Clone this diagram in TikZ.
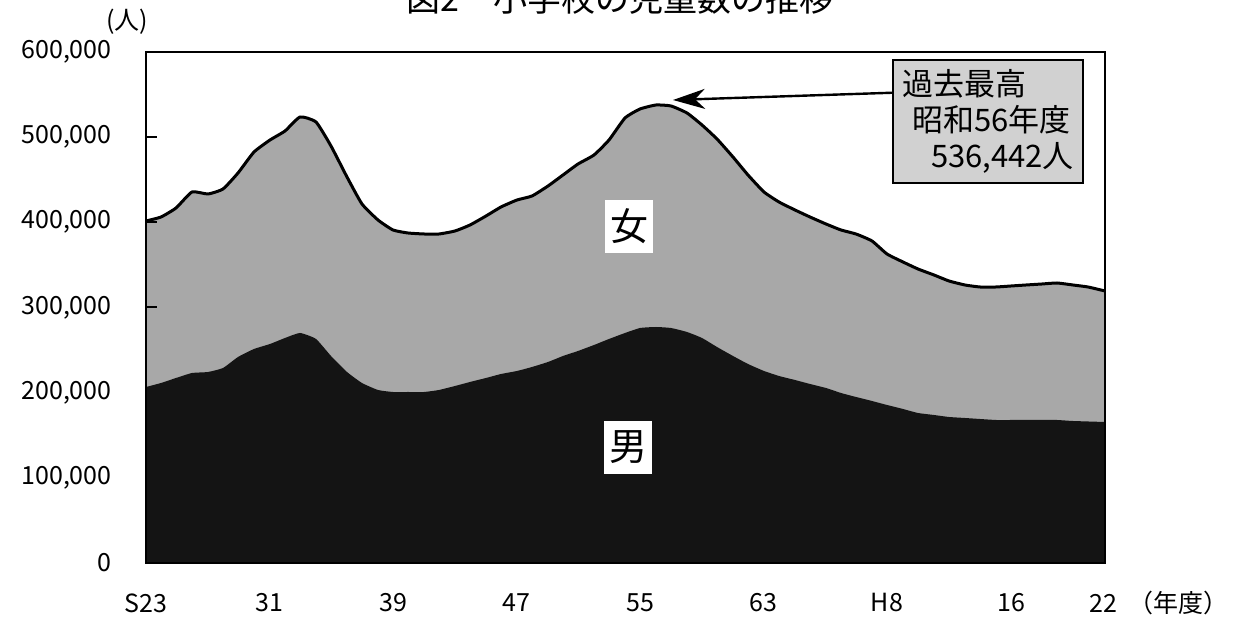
\documentclass[tikz,border=0pt]{standalone}
\usepackage{fontspec}
\setmainfont{Noto Sans CJK JP}
\usetikzlibrary{arrows.meta,calc}

\begin{document}
\begin{tikzpicture}[x=0.5pt,y=-0.5pt,
    ylab/.style={anchor=east,inner sep=0pt,font=\fontsize{12.5}{12.5}\selectfont},
    xlab/.style={inner sep=0pt,font=\fontsize{12.5}{12.5}\selectfont},
    sexlab/.style={fill=white,inner sep=0pt,minimum width=24pt,minimum height=26.5pt,font=\fontsize{19}{19}\selectfont}]
    \useasboundingbox (0,0) rectangle (1233,619);

    % total (girls on top)
    \fill [black!34] (146,563) -- plot[smooth,tension=0.3] coordinates {(146,221) (161,217) (176,208) (192,192) (208,194) (223,189) (238,173) (254,152) (270,140) (285,131) (300,117) (316,122) (331,146) (347,177) (362,204) (378,220) (393,230) (408,233) (424,234) (439,234) (455,231) (470,225) (486,216) (501,207) (517,200) (532,196) (548,186) (563,175) (578,164) (594,155) (609,140) (625,118) (640,109) (656,105) (671,106) (687,113) (702,125) (717,139) (733,157) (748,175) (764,192) (779,202) (795,210) (810,217) (826,224) (841,230) (856,234) (872,241) (887,254) (903,262) (918,269) (934,275) (949,281) (965,285) (980,287) (996,287) (1011,286) (1026,285) (1042,284) (1057,283) (1073,285) (1088,287) (1105,291)} -- (1105,563) -- cycle;
    % boys
    \fill [black!92] (146,563) -- plot[smooth,tension=0.3] coordinates {(146,387) (161,383) (176,378) (192,373) (208,372) (223,368) (238,357) (254,349) (270,344) (285,338) (300,333) (316,339) (331,356) (347,372) (362,383) (378,390) (393,392) (408,392) (424,392) (439,390) (455,386) (470,382) (486,378) (501,374) (517,371) (532,367) (548,362) (563,356) (578,351) (594,345) (609,339) (625,333) (640,328) (656,327) (671,328) (687,332) (702,338) (717,347) (733,356) (748,364) (764,371) (779,376) (795,380) (810,384) (826,388) (841,393) (856,397) (872,401) (887,405) (903,409) (918,413) (934,415) (949,417) (965,418) (980,419) (996,420) (1011,420) (1026,420) (1042,420) (1057,420) (1073,421) (1105,422)} -- (1105,563) -- cycle;
    \draw [line width=1.5pt,line join=round] plot[smooth,tension=0.3] coordinates {(146,221) (161,217) (176,208) (192,192) (208,194) (223,189) (238,173) (254,152) (270,140) (285,131) (300,117) (316,122) (331,146) (347,177) (362,204) (378,220) (393,230) (408,233) (424,234) (439,234) (455,231) (470,225) (486,216) (501,207) (517,200) (532,196) (548,186) (563,175) (578,164) (594,155) (609,140) (625,118) (640,109) (656,105) (671,106) (687,113) (702,125) (717,139) (733,157) (748,175) (764,192) (779,202) (795,210) (810,217) (826,224) (841,230) (856,234) (872,241) (887,254) (903,262) (918,269) (934,275) (949,281) (965,285) (980,287) (996,287) (1011,286) (1026,285) (1042,284) (1057,283) (1073,285) (1088,287) (1105,291)};% outline

    \draw [line width=1pt] (146,52) rectangle (1105,563);% frame
    \draw [line width=1pt] (146,137.2) -- (157,137.2);
    \draw [line width=1pt] (146,222.3) -- (157,222.3);
    \draw [line width=1pt] (146,307.5) -- (157,307.5);

    \node (title) [font=\fontsize{17}{17}\selectfont] at (620,-1) {図2　小学校の児童数の推移};
    \node (unit) [xlab] at (127,22) {(人)};

    \node (y600) [ylab] at (112,52) {600,000};
    \node (y500) [ylab] at (112,137.2) {500,000};
    \node (y400) [ylab] at (112,222.3) {400,000};
    \node (y300) [ylab] at (112,307.5) {300,000};
    \node (y200) [ylab] at (112,392.7) {200,000};
    \node (y100) [ylab] at (112,477.8) {100,000};
    \node (y0) [ylab] at (112,563) {0};

    \node (xS23) [xlab] at (146,603) {S23};
    \node (x31) [xlab] at (269.5,603) {31};
    \node (x39) [xlab] at (393,603) {39};
    \node (x47) [xlab] at (516.6,603) {47};
    \node (x55) [xlab] at (640,603) {55};
    \node (x63) [xlab] at (763.7,603) {63};
    \node (xH8) [xlab] at (887,603) {H8};
    \node (x16) [xlab] at (1011,603) {16};
    \node (x22) [xlab] at (1103,603) {22};
    \node (xunit) [xlab,anchor=west] at (1128,603) {（年度）};

    \node (girls) [sexlab] at (629,226.5) {女};
    \node (boys) [sexlab] at (628,447.5) {男};

    \node (peakbox) [draw,line width=1pt,fill=black!18,minimum width=95pt,minimum height=61.5pt,inner sep=0pt,align=left,font=\fontsize{15.5}{18}\selectfont] at (988,121.5) {過去最高\\\hspace*{5pt}昭和56年度\\\hspace*{14.5pt}536,442人};
    \coordinate (peak) at (673,100);
    \draw [-{Stealth[length=16pt,width=10pt,inset=5pt]},line width=1.2pt] ($(peakbox.north west)!0.27!(peakbox.south west)$) -- (peak);
\end{tikzpicture}
\end{document}
